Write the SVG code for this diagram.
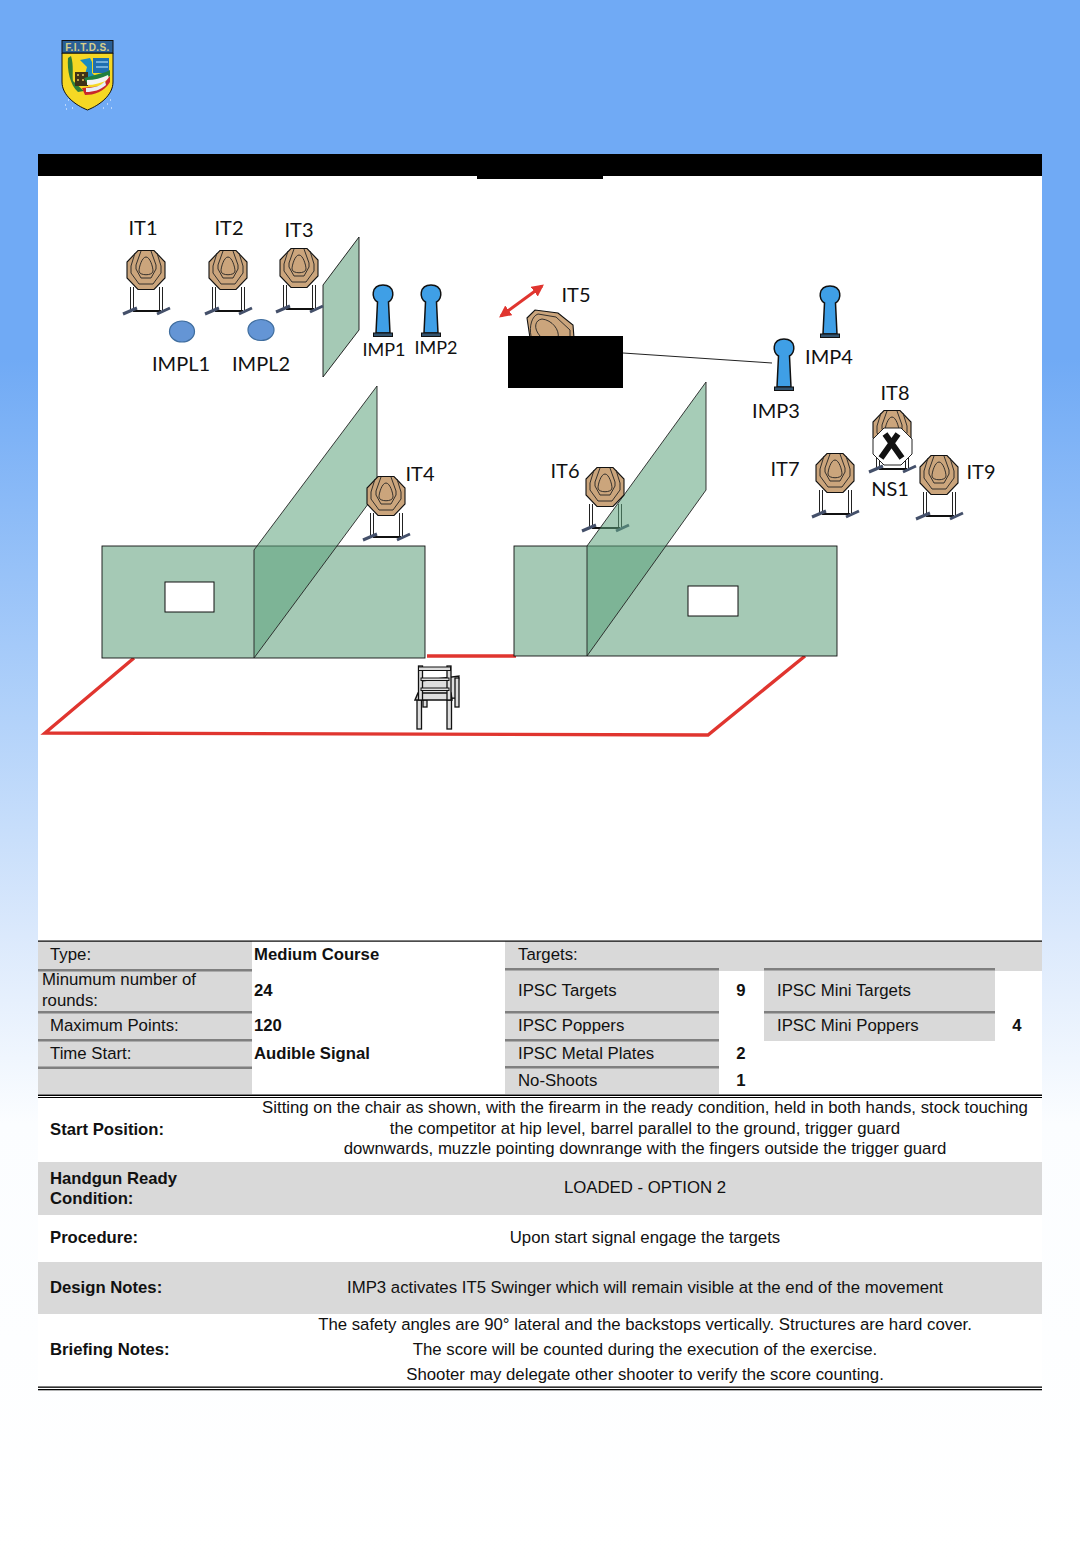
<svg xmlns="http://www.w3.org/2000/svg" width="1080" height="1560" viewBox="0 0 1080 1560">
<style>
.lb{font-family:Lato,"Open Sans",sans-serif;font-size:20px;fill:#111;text-anchor:middle}
.sm{font-size:18px}
.t{font-family:"Liberation Sans",Arial,sans-serif;font-size:16.8px;fill:#111}
.b{font-weight:bold;font-size:16.7px}
.m{text-anchor:middle}
.g{fill:#d9d9d9}
.dl{fill:#7f7f7f}
.k{fill:#000}
.wall{fill:#a5c9b5;stroke:#111;stroke-width:.9}
.diag{fill:#5da27b;fill-opacity:.55;stroke:#222;stroke-width:.9}
.red{stroke:#e0352f;stroke-width:3.4;fill:none}
.oct{fill:#cba57c;stroke:#111;stroke-width:1.1}
.ring{fill:none;stroke:#222;stroke-width:.9}
.leg{stroke:#222;stroke-width:1;fill:none}
.foot{stroke:#44506a;stroke-width:3;fill:none}
.pop{fill:#3f9fe6;stroke:#111;stroke-width:1.5}
.ch{fill:#ddd;stroke:#111;stroke-width:1.3}
</style>
<defs>
<linearGradient id="bg" x1="0" y1="0" x2="0" y2="1">
<stop offset="0" stop-color="#70aaf5"/>
<stop offset="0.23" stop-color="#70aaf5"/>
<stop offset="0.46" stop-color="#b2d2fa"/>
<stop offset="0.6" stop-color="#dbe9fc"/>
<stop offset="0.72" stop-color="#fbfdff"/>
<stop offset="1" stop-color="#ffffff"/>
</linearGradient>
<marker id="ah" viewBox="0 0 10 10" refX="8" refY="5" markerWidth="4" markerHeight="4" orient="auto-start-reverse"><path d="M0 0L10 5L0 10z" fill="#e0352f"/></marker>
<g id="stand">
<path class="leg" d="M-15.500 17V40M-12.500 17V40M13.500 17V40M16.500 17V40"/>
<path d="M-13 41H15" stroke="#111" stroke-width="2"/>
<path class="foot" d="M-23 44L-9 38M11 44L24 38"/>
</g>
<g id="face">
<polygon class="oct" points="-8,-19.500 8,-19.500 19,-8 19,8 8,19.500 -8,19.500 -19,8 -19,-8"/>
<path class="ring" d="M-11 -17L-15 -4V3L-7 14H7L15 3V-4L11 -17"/>
<path class="ring" d="M-5 -19L-10 -5V-1L-5 8H5L10 -1V-5L5 -19"/>
<path class="ring" d="M0 -13C-4 -13 -7 -3 -7 1C-7 6 7 6 7 1C7 -3 4 -13 0 -13z"/>
</g>
<g id="popper">
<path class="pop" d="M-5.500 -34C-12 -37 -12 -51 0 -51C12 -51 12 -37 5.500 -34L7 -3H-7z"/>
<rect x="-9.500" y="-3" width="19" height="3.500" fill="#33536e" stroke="#111" stroke-width="1"/>
</g>
</defs>
<rect width="1080" height="1560" fill="url(#bg)"/>
<g id="logo">
<path d="M62 53H113V82C113 95 100 105 87.500 110C75 105 62 95 62 82z" fill="#f6d824" stroke="#111" stroke-width="1"/>
<rect x="62" y="40.500" width="51" height="12.500" fill="#2a5f96" stroke="#111" stroke-width="1"/>
<text x="87.500" y="51" font-family="'Liberation Sans',sans-serif" font-size="10" font-weight="bold" fill="#d8cf8a" text-anchor="middle" letter-spacing=".4">F.I.T.D.S.</text>
<path d="M68 58L71 56C74 65 72 76 73 81L84 91L78 92C70 85 67 70 68 58z" fill="#2f7d3a"/>
<path d="M80 60L90 58L92 62V73L96 77L84 78L87 67z" fill="#1b8cc0"/>
<path d="M93 58H109V73H93z" fill="#1f6fb0"/>
<path d="M96 62H108M96 67H108" stroke="#8fc3e8" stroke-width="1.400"/>
<rect x="75" y="72" width="13" height="14" fill="#3f3216"/>
<path d="M77 75h2M82 75h2M77 80h2M82 80h2" stroke="#e5c95a" stroke-width="1.500"/>
<path d="M84 78L106 72L110 70V76L88 85z" fill="#207f3f"/>
<path d="M87 80C94 80 102 78 108 75L109 79C102 83 94 85 87 85z" fill="#f4f4f4"/>
<path d="M82 88L102 86L110 76V82C104 92 94 95 85 95z" fill="#c9272b"/>
<path d="M86 88C94 88 101 86 105 81L106 85C100 90 94 92 86 92z" fill="#e8eef6"/>
<path d="M65 105h1M68 100h1M66 109h1M107 104h1M110 100h1M111 108h1M103 108h1M72 108h1" stroke="#fff" stroke-width="1.200"/>
</g>
<rect id="panel" x="38" y="176" width="1004" height="1214" fill="#fff"/>
<g id="title-bar"><rect x="38" y="154" width="1004" height="22" class="k"/><rect x="477" y="170" width="126" height="9" class="k"/></g>
<g id="floor">
<path class="red" d="M134 658L45 733L708 735L805 656"/>
<path class="red" stroke-width="3.500" d="M427 656H516"/>
</g>
<g id="wall-top"><polygon class="wall" points="323,285 359,237 359,330 323,377"/></g>
<g id="IT1"><use href="#stand" x="146" y="270"/><use href="#face" x="146" y="270"/><text class="lb" x="143" y="235">IT1</text></g>
<g id="IT2"><use href="#stand" x="228" y="270"/><use href="#face" x="228" y="270"/><text class="lb" x="229" y="235">IT2</text></g>
<g id="IT3"><use href="#stand" x="299" y="268"/><use href="#face" x="299" y="268"/><text class="lb" x="299" y="237">IT3</text></g>
<g id="IMPL1"><ellipse cx="182" cy="331.500" rx="12.500" ry="10.500" fill="#6495d5" stroke="#3f6d9e" stroke-width="1.200"/><text class="lb" x="181" y="371">IMPL1</text></g>
<g id="IMPL2"><ellipse cx="261" cy="330" rx="13" ry="10.500" fill="#6495d5" stroke="#3f6d9e" stroke-width="1.200"/><text class="lb" x="261" y="371">IMPL2</text></g>
<g id="IMP1"><use href="#popper" x="383" y="336"/><text class="lb sm" x="384" y="356">IMP1</text></g>
<g id="IMP2"><use href="#popper" x="431" y="336"/><text class="lb sm" x="436" y="354">IMP2</text></g>
<g id="IT5">
<g><polygon class="oct" points="527,318 535,310 558,313 573,325 574,338 530,338"/>
<path class="ring" d="M531 336C529 326 532 316 538 314L556 317L570 330V338"/>
<path class="ring" d="M540 336C533 328 535 320 542 319C552 320 560 330 558 338"/></g>
<text class="lb" x="576" y="302">IT5</text></g>
<g id="box"><rect x="508" y="336" width="115" height="52" class="k"/></g>
<g id="IMP3"><use href="#popper" x="784" y="390"/><text class="lb" x="776" y="418">IMP3</text></g>
<g id="IMP4"><use href="#popper" x="830" y="337"/><text class="lb" x="829" y="364">IMP4</text></g>
<g id="IT7"><use href="#stand" x="835" y="473"/><use href="#face" x="835" y="473"/><text class="lb" x="785" y="476">IT7</text></g>
<g id="IT8"><use href="#stand" x="892" y="428"/><use href="#face" x="892" y="430"/><text class="lb" x="895" y="400">IT8</text></g>
<g id="NS1">
<polygon points="884,428 901,428 912,439 912,454 901,465 884,465 873,454 873,439" fill="#fff" stroke="#222" stroke-width="1"/>
<path d="M885 434L902 458M898 434L881 458" stroke="#111" stroke-width="6" fill="none"/>
<text class="lb" x="890" y="496">NS1</text></g>
<g id="IT9"><use href="#stand" x="939" y="475"/><use href="#face" x="939" y="475"/><text class="lb" x="981" y="479">IT9</text></g>
<g id="wall-left">
<rect class="wall" x="102" y="546" width="323" height="112"/>
<rect x="165" y="582" width="49" height="30" fill="#fff" stroke="#111"/>
<polygon class="diag" points="377,386 377,492 254,658 254,550"/>
</g>
<g id="IT4"><use href="#stand" x="386" y="496"/><use href="#face" x="386" y="496"/><text class="lb" x="420" y="481">IT4</text></g>
<g id="wall-right">
<rect class="wall" x="514" y="546" width="323" height="110"/>
<rect x="688" y="586" width="50" height="30" fill="#fff" stroke="#111"/>
</g>
<g id="IT6"><use href="#stand" x="605" y="487"/>
<polygon class="diag" points="706,382 706,490 587,656 587,546"/>
<use href="#face" x="605" y="487"/><text class="lb" x="565" y="478">IT6</text></g>
<g id="chair">
<polygon class="ch" points="421,681 459,676 456,698 419,699"/>
<rect class="ch" x="455" y="678" width="4" height="29"/>
<rect class="ch" x="423" y="700" width="4" height="7"/>
<rect class="ch" x="417" y="699" width="4.500" height="30"/>
<rect class="ch" x="447" y="699" width="4.500" height="30"/>
<path d="M415 700L418 693H451L452 700z" fill="#ddd" stroke="#111" stroke-width="1.500"/>
<rect x="418.500" y="666" width="4" height="34" fill="#ddd" stroke="#111" stroke-width="1.300"/>
<rect x="447" y="666" width="4" height="34" fill="#ddd" stroke="#111" stroke-width="1.300"/>
<rect x="418.500" y="667" width="32" height="3.500" fill="#ddd" stroke="#111"/>
<rect x="421" y="678" width="28" height="2.500" fill="#ddd" stroke="#111"/>
<rect x="421" y="688" width="28" height="2.500" fill="#ddd" stroke="#111"/>
</g>
<g id="connectors">
<path d="M623 353L772 363" stroke="#222" stroke-width="1" fill="none"/>
<path d="M501 316L542 286" stroke="#e0352f" stroke-width="3" fill="none" marker-start="url(#ah)" marker-end="url(#ah)"/>
</g>
<g id="table">
<rect class="g" x="38" y="941" width="214" height="153"/>
<rect class="g" x="505" y="941" width="214" height="153"/>
<rect class="g" x="505" y="941" width="537" height="30"/>
<rect class="g" x="764" y="969" width="231" height="72"/>
<rect x="38" y="940.500" width="1004" height="1.200" class="k"/>
<path class="dl" d="M38 969h214v2.500H38zM38 1011h214v2.500H38zM38 1039h214v2.500H38zM38 1066.500h214v2.500H38zM505 968h214v2.500H505zM505 1011h214v2.500H505zM505 1039h214v2.500H505zM505 1066h214v2.500H505zM764 968h231v2.500H764zM764 1011h231v2.500H764z"/>
<rect x="38" y="1094.500" width="1004" height="1.500" class="k"/>
<rect x="38" y="1097" width="1004" height="1" class="k"/>
<text class="t" x="50" y="960">Type:</text>
<text class="t" x="42" y="985">Minumum number of</text>
<text class="t" x="42" y="1006">rounds:</text>
<text class="t" x="50" y="1031">Maximum Points:</text>
<text class="t" x="50" y="1059">Time Start:</text>
<text class="t b" x="254" y="960">Medium Course</text>
<text class="t b" x="254" y="996">24</text>
<text class="t b" x="254" y="1031">120</text>
<text class="t b" x="254" y="1059">Audible Signal</text>
<text class="t" x="518" y="960">Targets:</text>
<text class="t" x="518" y="996">IPSC Targets</text>
<text class="t" x="518" y="1031">IPSC Poppers</text>
<text class="t" x="518" y="1059">IPSC Metal Plates</text>
<text class="t" x="518" y="1086">No-Shoots</text>
<text class="t b m" x="741" y="996">9</text>
<text class="t b m" x="741" y="1059">2</text>
<text class="t b m" x="741" y="1086">1</text>
<text class="t" x="777" y="996">IPSC Mini Targets</text>
<text class="t" x="777" y="1031">IPSC Mini Poppers</text>
<text class="t b m" x="1017" y="1031">4</text>
</g>
<g id="notes">
<rect class="g" x="38" y="1162" width="1004" height="53"/>
<rect class="g" x="38" y="1262" width="1004" height="52"/>
<text class="t b" x="50" y="1135">Start Position:</text>
<text class="t m" x="645" y="1113">Sitting on the chair as shown, with the firearm in the ready condition, held in both hands, stock touching</text>
<text class="t m" x="645" y="1134">the competitor at hip level, barrel parallel to the ground, trigger guard</text>
<text class="t m" x="645" y="1154">downwards, muzzle pointing downrange with the fingers outside the trigger guard</text>
<text class="t b" x="50" y="1184">Handgun Ready</text>
<text class="t b" x="50" y="1204">Condition:</text>
<text class="t m" x="645" y="1193">LOADED - OPTION 2</text>
<text class="t b" x="50" y="1243">Procedure:</text>
<text class="t m" x="645" y="1243">Upon start signal engage the targets</text>
<text class="t b" x="50" y="1293">Design Notes:</text>
<text class="t m" x="645" y="1293">IMP3 activates IT5 Swinger which will remain visible at the end of the movement</text>
<text class="t b" x="50" y="1355">Briefing Notes:</text>
<text class="t m" x="645" y="1330">The safety angles are 90° lateral and the backstops vertically. Structures are hard cover.</text>
<text class="t m" x="645" y="1355">The score will be counted during the execution of the exercise.</text>
<text class="t m" x="645" y="1380">Shooter may delegate other shooter to verify the score counting.</text>
<rect x="38" y="1386.500" width="1004" height="1.300" class="k"/>
<rect x="38" y="1389" width="1004" height="1.300" class="k"/>
</g>
</svg>
